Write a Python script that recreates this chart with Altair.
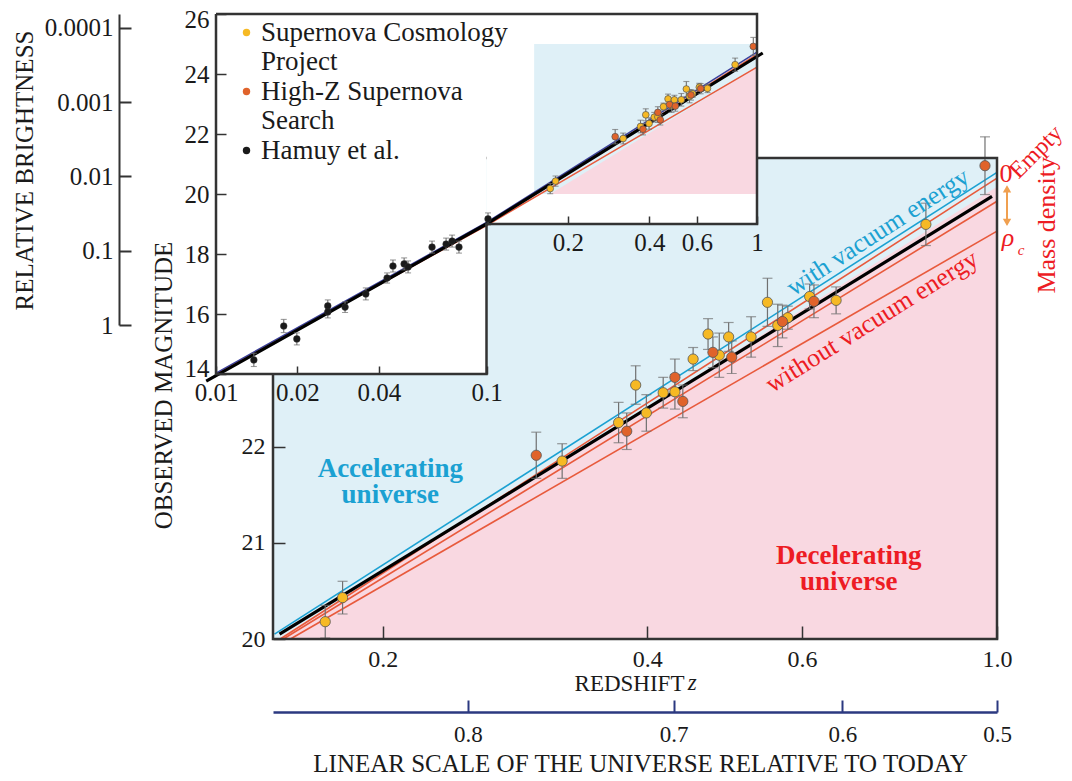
import altair as alt
import pandas as pd

# ---------------- data ----------------
# Supernova Cosmology Project (yellow): redshift, magnitude, error
scp_z = [0.172, 0.180, 0.320, 0.371, 0.388, 0.399, 0.417, 0.430, 0.451, 0.469,
         0.483, 0.495, 0.525, 0.548, 0.563, 0.578, 0.612, 0.656, 0.830]
scp_m = [20.18, 20.43, 21.85, 22.25, 22.64, 22.35, 22.56, 22.57, 22.91, 23.17,
         22.95, 23.14, 23.14, 23.50, 23.26, 23.34, 23.56, 23.52, 24.31]
scp_e = [0.17, 0.17, 0.18, 0.21, 0.20, 0.19, 0.16, 0.18, 0.12, 0.16,
         0.23, 0.15, 0.21, 0.25, 0.22, 0.12, 0.13, 0.14, 0.22]
# High-Z Supernova Search (orange)
hz_z = [0.299, 0.379, 0.430, 0.439, 0.475, 0.499, 0.570, 0.619, 0.969]
hz_m = [21.91, 22.16, 22.72, 22.47, 22.98, 22.93, 23.30, 23.51, 24.92]
hz_e = [0.24, 0.19, 0.19, 0.17, 0.16, 0.17, 0.17, 0.17, 0.30]
# Hamuy et al. (black, inset)
ham_z = [0.0138, 0.0178, 0.0199, 0.0259, 0.0259, 0.0300, 0.0358, 0.0429,
         0.0451, 0.0496, 0.0513, 0.0629, 0.0709, 0.0746, 0.0791, 0.1013]
ham_m = [14.47, 15.60, 15.17, 16.27, 16.07, 16.23, 16.67, 17.20,
         17.60, 17.67, 17.57, 18.23, 18.33, 18.43, 18.23, 19.17]
ham_e = [0.22, 0.22, 0.20, 0.20, 0.20, 0.18, 0.20, 0.17,
         0.20, 0.20, 0.20, 0.20, 0.20, 0.20, 0.20, 0.20]

# model lines in the main panel
main_lines = {
    "red_bot": ([0.157, 1.0], [20.0, 24.24]),
    "red_mid": ([0.1541, 1.0], [20.0, 24.55]),
    "red_top": ([0.1529, 1.0], [20.0, 24.79]),
    "cyan":    ([0.1506, 1.0], [20.05, 24.85]),
    "black":   ([0.1526, 0.987], [20.05, 24.60]),
}
main_pink_z = [0.152, 1.0]
main_pink_m = [20.0, 24.70]

# model lines in the inset
inset_lines = {
    "red_low": ([0.01, 0.1, 0.3, 1.0], [13.98, 18.95, 21.47, 24.23]),
    "red_up":  ([0.01, 0.1, 1.0], [13.98, 18.98, 24.65]),
    "navy":    ([0.01, 0.1, 1.0], [14.03, 19.05, 24.73]),
    "black":   ([0.0092, 0.1, 0.3, 1.05], [13.76, 19.0, 21.67, 24.7]),
}
inset_pink_z = [0.172, 1.0]
inset_pink_m = [20.0, 24.23]

# tick labels
main_x_ticks = [0.2, 0.4, 0.6, 1.0]
main_y_ticks = [20, 21, 22]
inset_x_ticks_low = [0.01, 0.02, 0.04, 0.1]
inset_x_ticks_up = [0.2, 0.4, 0.6, 1.0]
inset_y_ticks = [14, 16, 18, 20, 22, 24, 26]
bright_ticks = [1, 0.1, 0.01, 0.001, 0.0001]
scale_ticks = [0.8, 0.7, 0.6, 0.5]   # scale factor a = 1/(1+z)

legend_keys = ["scp", "scp2", "hz", "hz2", "ham"]
legend_text = ["Supernova Cosmology", "Project", "High-Z Supernova", "Search", "Hamuy et al."]

# ---------------- styles ----------------
FONT = "Liberation Serif"
TXT = "#1a1a1a"
BLUE_BG = "#dff0f7"
PINK = "#f9d8e1"
CYAN = "#1ba1d2"
RED_TXT = "#ed1c24"
RED_LINE = "#e85a3c"
NAVY = "#2b3980"
NAVY_LINE = "#3b3f9a"
YEL = "#f6b924"
ORA = "#e0632b"
BLK = "#1a1a1a"
ERR = "#707070"
FRAME = "#333333"
CLEAR = "rgba(0,0,0,0)"

legend_fill = [YEL, CLEAR, ORA, CLEAR, BLK]

# ---------------- tables ----------------
one = pd.DataFrame({"k": [0]})
sn = pd.DataFrame({
    "z": scp_z + hz_z,
    "m": scp_m + hz_m,
    "e": scp_e + hz_e,
    "src": ["scp"] * len(scp_z) + ["hz"] * len(hz_z),
})
sn["lo"] = sn["m"] - sn["e"]
sn["hi"] = sn["m"] + sn["e"]
ham = pd.DataFrame({"z": ham_z, "m": ham_m, "e": ham_e, "src": ["ham"] * len(ham_z)})
ham["lo"] = ham["m"] - ham["e"]
ham["hi"] = ham["m"] + ham["e"]


def long_lines(d):
    rows = []
    for name, (zs, ms) in d.items():
        for i, (z, m) in enumerate(zip(zs, ms)):
            rows.append({"series": name, "i": i, "z": z, "m": m})
    return pd.DataFrame(rows)


mlines = long_lines(main_lines)
ilines = long_lines(inset_lines)
mpink = pd.DataFrame({"z": main_pink_z, "m": main_pink_m})
ipink = pd.DataFrame({"z": inset_pink_z, "m": inset_pink_m})
frame_df = pd.DataFrame({
    "i": list(range(7)),
    "z": [0.01, 1.0, 1.0, 0.1, 0.1, 0.01, 0.01],
    "m": [26, 26, 19, 19, 14, 14, 26],
})
bright_df = pd.DataFrame({"b": [1.0]})

# ---------------- scales ----------------
MX = alt.Scale(type="log", domain=[0.15, 1.0], range=[57, 781], nice=False)
MY = alt.Scale(type="linear", domain=[20, 25], range=[625, 144], nice=False, zero=False)
IX = alt.Scale(type="log", domain=[0.01, 1.0], range=[0, 541], nice=False)
IY = alt.Scale(type="linear", domain=[14, 26], range=[360, 0], nice=False, zero=False)
BY = alt.Scale(type="log", domain=[0.0000648, 1], range=[0, 311], nice=False)
COLOR = alt.Scale(domain=legend_keys, range=legend_fill)


def lab(**kw):
    base = dict(labelFont=FONT, labelColor=TXT, titleFont=FONT, titleColor=TXT,
                titleFontWeight="normal", grid=False, labelFlush=False,
                labelOverlap=False, zindex=1)
    base.update(kw)
    return alt.Axis(**base)


# ---------------- axes ----------------
main_x_axis = lab(orient="top", offset=-625, values=main_x_ticks,
                  labelExpr="format(datum.value, '.1f')", tickSize=13, tickWidth=1.5,
                  tickColor=FRAME, domain=False, labelPadding=-21, labelBaseline="top",
                  labelFontSize=24, title="REDSHIFT", titleFontSize=23, titleX=413,
                  titleY=44, titleAlign="center", titleBaseline="middle")
main_y_axis = lab(orient="right", offset=-724, values=main_y_ticks, format="d",
                  tickSize=12, tickWidth=1.5, tickColor=FRAME, domain=False,
                  labelPadding=-20, labelAlign="right", labelFontSize=24, title="")
scale_axis = lab(orient="top", offset=-698, values=[1 / a - 1 for a in scale_ticks],
                 labelExpr="format(1/(1+datum.value), '.1f')", tickSize=12, tickWidth=2,
                 tickColor=NAVY, domain=True, domainColor=NAVY, domainWidth=2.5,
                 labelPadding=-23, labelBaseline="top", labelFontSize=23,
                 title="LINEAR SCALE OF THE UNIVERSE RELATIVE TO TODAY", titleFontSize=25,
                 titleX=424, titleY=59, titleAlign="center", titleBaseline="alphabetic")
ins_x_low = lab(orient="top", offset=-360, values=inset_x_ticks_low,
                labelExpr="format(datum.value, '~g')", tickSize=8, tickWidth=1.5,
                tickColor=FRAME, domain=False, labelPadding=-14, labelBaseline="top",
                labelFontSize=25, title="")
ins_x_up = lab(orient="top", offset=-210, values=inset_x_ticks_up,
               labelExpr="format(datum.value, '~g')", tickSize=8, tickWidth=1.5,
               tickColor=FRAME, domain=False, labelPadding=-14, labelBaseline="top",
               labelFontSize=25, title="")
ins_y_axis = lab(orient="right", offset=-781, values=inset_y_ticks, format="d",
                 tickSize=10, tickWidth=1.5, tickColor=FRAME, domain=False,
                 labelPadding=-17, labelAlign="right", labelFontSize=25,
                 labelFlush=True, labelFlushOffset=7,
                 title="OBSERVED MAGNITUDE", titleFontSize=25, titleAngle=270,
                 titleX=-53, titleY=371, titleAlign="center", titleBaseline="middle")
bright_axis = lab(orient="right", offset=-878, values=bright_ticks,
                  labelExpr="format(datum.value, '~g')", tickSize=12, tickWidth=2,
                  tickColor=FRAME, domain=True, domainColor=FRAME, domainWidth=2,
                  labelPadding=-18, labelAlign="right", labelFontSize=25,
                  title="RELATIVE BRIGHTNESS", titleFontSize=25, titleAngle=270,
                  titleX=-95, titleY=156, titleAlign="center", titleBaseline="middle")

_expr = "datum.label"
for k, t in reversed(list(zip(legend_keys, legend_text))):
    _expr = f"datum.value === '{k}' ? '{t}' : ({_expr})"
legend = alt.Legend(orient="none", legendX=17, legendY=5, title=None,
                    labelExpr=_expr, labelFont=FONT, labelFontSize=27,
                    labelColor=TXT, symbolType="circle", symbolSize=55,
                    symbolStrokeWidth=0, rowPadding=1.5, padding=0, labelOffset=1,
                    labelLimit=400, zindex=1)


# encoding helpers: every layer of a group carries the same y axis so they merge
def xf(f, sc, axis=None):
    return alt.X(f, type="quantitative", scale=sc, axis=axis)


def yf(f, sc, axis):
    return alt.Y(f, type="quantitative", scale=sc, axis=axis)


def xd(v, sc, axis=None):
    return alt.XDatum(v, type="quantitative", scale=sc, axis=axis)


def yd(v, sc, axis):
    return alt.YDatum(v, type="quantitative", scale=sc, axis=axis)


def col():
    return alt.Color("src:N", scale=COLOR, legend=legend)


# ---------------- main panel ----------------
MA = main_y_axis
line_style_main = {
    "red_bot": (RED_LINE, 1.6), "red_mid": (RED_LINE, 1.6), "red_top": (RED_LINE, 1.6),
    "cyan": (CYAN, 1.6), "black": ("#000000", 3.2),
}
main_layers = [
    alt.Chart(one).mark_rect(fill=BLUE_BG).encode(
        x=xd(0.15, MX), x2=alt.X2Datum(1.0), y=yd(20, MY, MA), y2=alt.Y2Datum(25)),
    alt.Chart(mpink).mark_area(fill=PINK, opacity=1).encode(
        x=xf("z", MX), y=yf("m", MY, MA), y2=alt.Y2Datum(20)),
]
for name, (c, w) in line_style_main.items():
    main_layers.append(
        alt.Chart(mlines).transform_filter(alt.datum.series == name)
        .mark_line(color=c, strokeWidth=w).encode(
            x=xf("z", MX), y=yf("m", MY, MA), order="i:O"))
main_layers += [
    alt.Chart(sn).mark_rule(color=ERR, strokeWidth=1.2).encode(
        x=xf("z", MX), y=yf("lo", MY, MA), y2="hi"),
    alt.Chart(sn).mark_tick(orient="horizontal", color=ERR, thickness=1.2, size=10).encode(
        x=xf("z", MX), y=yf("lo", MY, MA)),
    alt.Chart(sn).mark_tick(orient="horizontal", color=ERR, thickness=1.2, size=10).encode(
        x=xf("z", MX), y=yf("hi", MY, MA)),
    alt.Chart(sn).mark_point(filled=True, size=105, stroke="#555555", strokeWidth=0.8,
                             opacity=1).encode(
        x=xf("z", MX), y=yf("m", MY, MA), color=col()),
    alt.Chart(one).mark_rect(fillOpacity=0, stroke=FRAME, strokeWidth=2.5).encode(
        x=xd(0.15, MX, main_x_axis), x2=alt.X2Datum(1.0),
        y=yd(20, MY, MA), y2=alt.Y2Datum(25)),
    alt.Chart(one).mark_point(opacity=0).encode(
        x=xd(1.0, MX, scale_axis), y=yd(20, MY, MA)),
]


def mtext(txt, z, m, **mk):
    base = dict(font=FONT)
    base.update(mk)
    return alt.Chart(one).mark_text(text=txt, **base).encode(
        x=xd(z, MX), y=yd(m, MY, MA))


main_layers += [
    mtext("z", 0.4446, 19.54, fontSize=23, fontStyle="italic", color=TXT, align="left"),
    mtext("with vacuum energy", 0.732, 24.23, fontSize=26, color=CYAN, angle=327),
    mtext("without vacuum energy", 0.7205, 23.30, fontSize=26, color=RED_TXT, angle=328),
    mtext(["Accelerating", "universe"], 0.204, 21.77, fontSize=27, fontWeight="bold",
          color=CYAN, lineHeight=26),
    mtext(["Decelerating", "universe"], 0.678, 20.86, fontSize=27, fontWeight="bold",
          color=RED_TXT, lineHeight=26),
    mtext("0", 1.024, 24.83, fontSize=26, color=RED_TXT),
    mtext("Empty", 1.108, 25.06, fontSize=24, color=RED_TXT, angle=315),
    mtext("ρ", 1.029, 24.17, fontSize=26, fontStyle="italic", color=RED_TXT),
    mtext("c", 1.065, 24.04, fontSize=15, fontStyle="italic", color=RED_TXT),
    mtext("Mass density", 1.14, 24.30, fontSize=26, color=RED_TXT, angle=270),
    alt.Chart(one).mark_rule(color="#f0a050", strokeWidth=2).encode(
        x=xd(1.0266, MX), y=yd(24.70, MY, MA), y2=alt.Y2Datum(24.31)),
    alt.Chart(one).mark_point(shape="triangle-up", filled=True, color="#f0a050",
                              size=70, opacity=1).encode(
        x=xd(1.0266, MX), y=yd(24.68, MY, MA)),
    alt.Chart(one).mark_point(shape="triangle-down", filled=True, color="#f0a050",
                              size=70, opacity=1).encode(
        x=xd(1.0266, MX), y=yd(24.33, MY, MA)),
]
main_group = alt.layer(*main_layers).resolve_axis(x="independent")

# ---------------- inset ----------------
IA = ins_y_axis
line_style_inset = {
    "red_low": (RED_LINE, 1.5), "red_up": (RED_LINE, 1.5),
    "navy": (NAVY_LINE, 1.5), "black": ("#000000", 3.2),
}
inset_layers = [
    alt.Chart(one).mark_rect(fill="white").encode(
        x=xd(0.01, IX, ins_x_low), x2=alt.X2Datum(0.1), y=yd(14, IY, IA), y2=alt.Y2Datum(26)),
    alt.Chart(one).mark_rect(fill="white").encode(
        x=xd(0.1, IX, ins_x_up), x2=alt.X2Datum(1.0), y=yd(19, IY, IA), y2=alt.Y2Datum(26)),
    alt.Chart(one).mark_rect(fill=BLUE_BG).encode(
        x=xd(0.15, IX), x2=alt.X2Datum(1.0), y=yd(20, IY, IA), y2=alt.Y2Datum(25)),
    alt.Chart(ipink).mark_area(fill=PINK, opacity=1).encode(
        x=xf("z", IX), y=yf("m", IY, IA), y2=alt.Y2Datum(20)),
]
for name, (c, w) in line_style_inset.items():
    inset_layers.append(
        alt.Chart(ilines).transform_filter(alt.datum.series == name)
        .mark_line(color=c, strokeWidth=w).encode(
            x=xf("z", IX), y=yf("m", IY, IA), order="i:O"))
for dfp in (sn, ham):
    inset_layers += [
        alt.Chart(dfp).mark_rule(color=ERR, strokeWidth=1.1).encode(
            x=xf("z", IX), y=yf("lo", IY, IA), y2="hi"),
        alt.Chart(dfp).mark_tick(orient="horizontal", color=ERR, thickness=1.1, size=6).encode(
            x=xf("z", IX), y=yf("lo", IY, IA)),
        alt.Chart(dfp).mark_tick(orient="horizontal", color=ERR, thickness=1.1, size=6).encode(
            x=xf("z", IX), y=yf("hi", IY, IA)),
    ]
inset_layers += [
    alt.Chart(sn).mark_point(filled=True, size=45, stroke="#555555", strokeWidth=0.7,
                             opacity=1).encode(
        x=xf("z", IX), y=yf("m", IY, IA), color=col()),
    alt.Chart(ham).mark_point(filled=True, size=45, stroke="#333333", strokeWidth=0.5,
                              opacity=1).encode(
        x=xf("z", IX), y=yf("m", IY, IA), color=col()),
    alt.Chart(frame_df).mark_line(color=FRAME, strokeWidth=2.5).encode(
        x=xf("z", IX), y=yf("m", IY, IA), order="i:O"),
]
inset_group = alt.layer(*inset_layers).resolve_axis(x="independent")

# ---------------- brightness axis ----------------
bright_group = alt.Chart(bright_df).mark_point(opacity=0).encode(
    y=alt.Y("b", type="quantitative", scale=BY, axis=bright_axis))

chart = (
    alt.layer(main_group, inset_group, bright_group)
    .resolve_scale(x="independent", y="independent")
    .properties(width=781, height=625,
                padding={"left": 208, "top": 6, "right": 67, "bottom": 134},
                autosize=alt.AutoSizeParams(type="none"))
    .configure_view(stroke=None)
)
chart.save("out.html", embed_options={"renderer": "svg", "actions": False})
